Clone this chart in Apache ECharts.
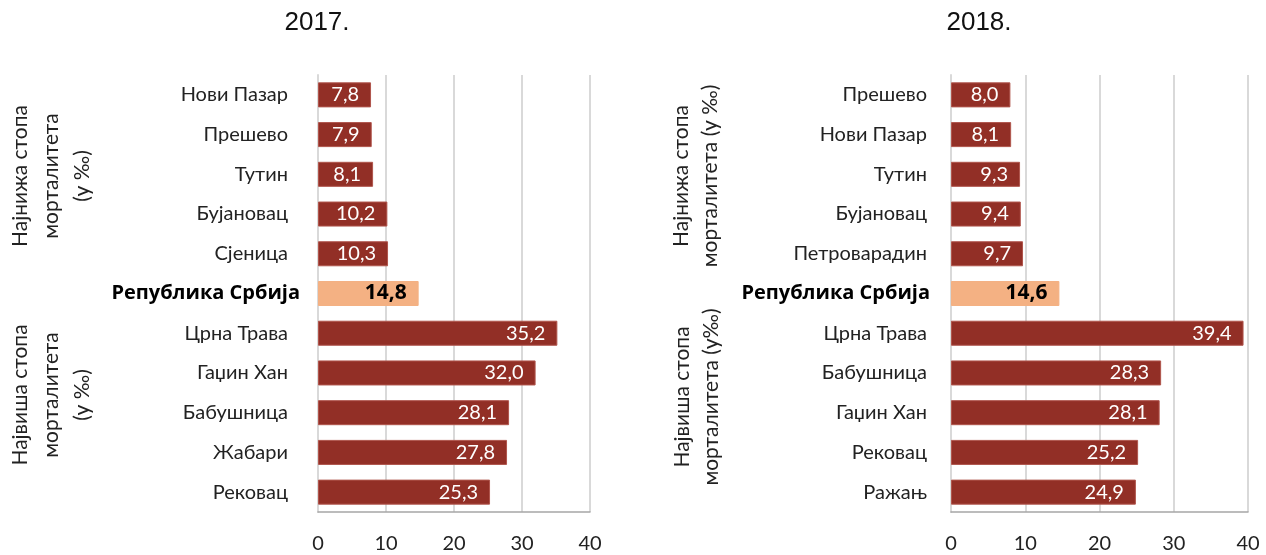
<!DOCTYPE html>
<html><head><meta charset="utf-8">
<script src="https://cdn.jsdelivr.net/npm/echarts@6/dist/echarts.min.js"></script>
<style>html,body{margin:0;padding:0;background:#fff}#c{width:1266px;height:555px}</style>
</head><body><div id="c"></div>
<script>
const titles = ['2017.', '2018.'];
const cats2017 = ['Нови Пазар','Прешево','Тутин','Бујановац','Сјеница','Република Србија','Црна Трава','Гаџин Хан','Бабушница','Жабари','Рековац'];
const vals2017 = [7.8, 7.9, 8.1, 10.2, 10.3, 14.8, 35.2, 32.0, 28.1, 27.8, 25.3];
const cats2018 = ['Прешево','Нови Пазар','Тутин','Бујановац','Петроварадин','Република Србија','Црна Трава','Бабушница','Гаџин Хан','Рековац','Ражањ'];
const vals2018 = [8.0, 8.1, 9.3, 9.4, 9.7, 14.6, 39.4, 28.3, 28.1, 25.2, 24.9];
const xTicks = [0, 10, 20, 30, 40];
const highlightName = 'Република Србија';
const lowLabelL = 'Најнижа стопа\nморталитета\n(у ‰)';
const highLabelL = 'Највиша стопа\nморталитета\n(у ‰)';
const lowLabelR = 'Најнижа стопа\nморталитета (у ‰)';
const highLabelR = 'Највиша стопа\nморталитета (у‰)';

const DARK = '#922f26', LIGHT = '#f4b183';
const FONT = 'Lato, "Open Sans", sans-serif';
const BOLDFONT = '"Open Sans", "Noto Sans", sans-serif';
const fmt = v => v.toFixed(1).replace('.', ',');

function catData(cats, pad){
  return cats.map(c => c === highlightName
    ? {value: c, textStyle: {fontWeight: 'bold', fontFamily: BOLDFONT, fontSize: 20, color: '#000', padding: [0, pad, 0, 0]}}
    : c);
}
function barData(cats, vals){
  return vals.map((v, i) => cats[i] === highlightName
    ? {value: v, itemStyle: {color: LIGHT, borderColor: LIGHT},
       label: {color: '#000', fontWeight: 'bold', fontFamily: BOLDFONT, fontSize: 21, distance: 12}}
    : v);
}
const grids = [
  {left: 318, width: 272, top: 75, height: 437},
  {left: 951, width: 297, top: 75, height: 437}
];
const chart = echarts.init(document.getElementById('c'), null, {renderer: 'canvas'});
const xAxes = grids.map((g, i) => ({
  type: 'value', gridIndex: i, min: xTicks[0], max: xTicks[xTicks.length-1], interval: 10,
  axisLine: {show: true, lineStyle: {color: '#a6a6a6', width: 1.5}},
  axisTick: {show: false},
  splitLine: {show: true, lineStyle: {color: '#d9d9d9', width: 2}},
  axisLabel: {fontFamily: FONT, fontSize: 20, color: '#222', margin: 22}
}));
const yAxes = [cats2017, cats2018].map((cats, i) => ({
  type: 'category', gridIndex: i, inverse: true, data: catData(cats, i === 0 ? -12 : -3),
  axisLine: {show: true, lineStyle: {color: '#d9d9d9', width: 2}},
  axisTick: {show: false},
  axisLabel: {fontFamily: FONT, fontSize: 20, color: '#222', margin: i === 0 ? 30 : 24}
}));
const series = [[cats2017, vals2017], [cats2018, vals2018]].map(([c, v], i) => ({
  type: 'bar', xAxisIndex: i, yAxisIndex: i, data: barData(c, v),
  barCategoryGap: '37%',
  itemStyle: {color: DARK, borderColor: '#b0554c', borderWidth: 1},
  label: {show: true, position: 'insideRight', distance: 12, color: '#fff',
          fontFamily: FONT, fontSize: 20, formatter: p => fmt(p.value)},
  silent: true, animation: false
}));
const gtext = (x, y, txt, lh) => ({
  type: 'text', x: x, y: y, rotation: Math.PI/2, silent: true,
  style: {text: txt, fill: '#222', font: '21px ' + FONT, lineHeight: lh,
          align: 'center', verticalAlign: 'middle'}
});
chart.setOption({
  animation: false,
  title: [
    {text: titles[0], left: 312, top: 5, textAlign: 'center', textStyle: {fontFamily: 'Liberation Sans, Arial', fontWeight: 'normal', fontSize: 26, color: '#111'}},
    {text: titles[1], left: 974, top: 5, textAlign: 'center', textStyle: {fontFamily: 'Liberation Sans, Arial', fontWeight: 'normal', fontSize: 26, color: '#111'}}
  ],
  grid: grids,
  xAxis: xAxes,
  yAxis: yAxes,
  series: series,
  graphic: [
    gtext(51, 176, lowLabelL, 31),
    gtext(51, 395, highLabelL, 31),
    gtext(696, 176, lowLabelR, 29),
    gtext(697, 397, highLabelR, 29)
  ]
});
</script></body></html>
